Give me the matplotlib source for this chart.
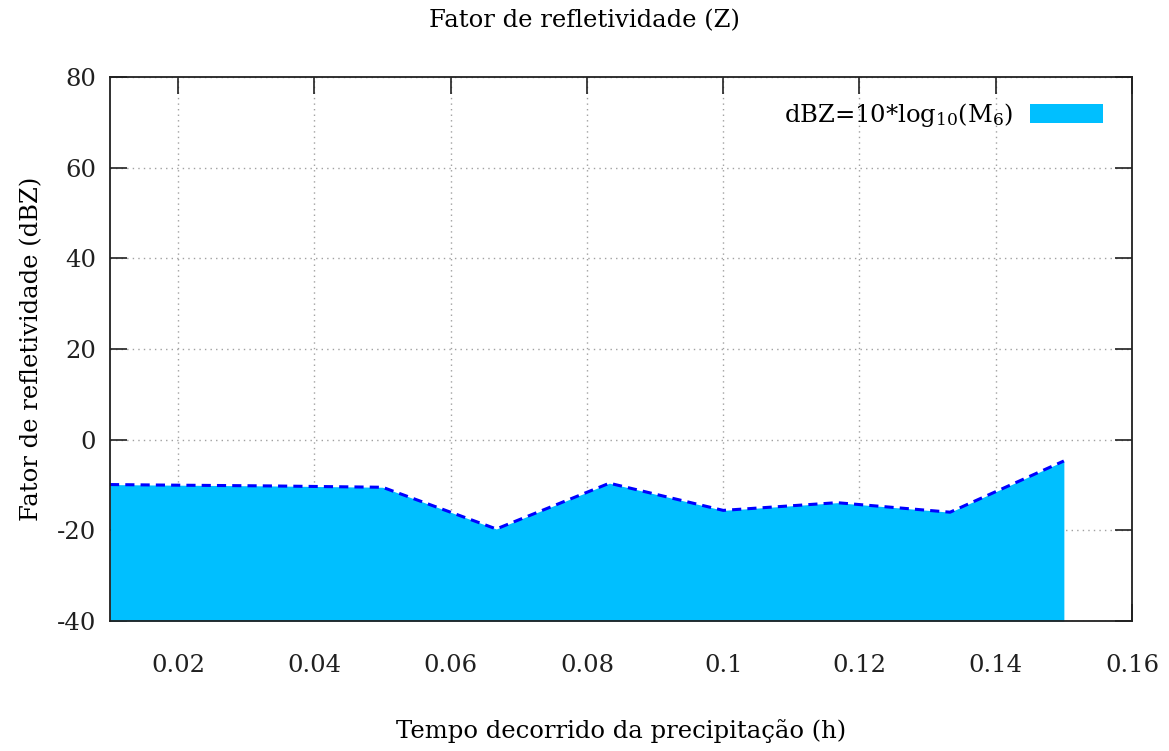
import matplotlib
matplotlib.use("Agg")
import matplotlib.pyplot as plt
from matplotlib.patches import Patch

# tempo (h) e fator de refletividade (dBZ)
tempo = [0.01, 0.0167, 0.0333, 0.05, 0.0667, 0.0833, 0.1, 0.1167, 0.1333, 0.15]
dbz = [-9.9, -10.0, -10.2, -10.5, -19.7, -9.6, -15.6, -13.9, -16.0, -4.7]

xticks = [0.02, 0.04, 0.06, 0.08, 0.1, 0.12, 0.14, 0.16]
xticklabels = ["0.02", "0.04", "0.06", "0.08", "0.1", "0.12", "0.14", "0.16"]
yticks = [-40, -20, 0, 20, 40, 60, 80]

fill_color = "#00BFFF"
line_color = "#0000FF"

plt.rcParams['font.family'] = ['DejaVu Serif']
plt.rcParams['mathtext.fontset'] = 'dejavuserif'
plt.rcParams['axes.unicode_minus'] = False

fs = 17.5

fig = plt.figure(figsize=(11.69, 7.51), dpi=100)
ax = fig.add_axes([110/1169, 1 - 621/751, (1132-110)/1169, (621-77)/751])

ax.fill_between(tempo, -40, dbz, color=fill_color, linewidth=0, zorder=2)
ax.plot(tempo, dbz, color=line_color, linestyle=(0, (3, 2)), linewidth=2.2, zorder=3)

ax.set_xlim(0.01, 0.16)
ax.set_ylim(-40, 80)
ax.set_xticks(xticks)
ax.set_xticklabels(xticklabels)
ax.set_yticks(yticks)

ax.grid(True, color="#a0a0a0", linestyle=(0, (1, 3)), linewidth=1.0, zorder=1)
ax.set_axisbelow(True)

ax.tick_params(direction='in', length=12, width=1.2, top=True, right=True,
               labelsize=fs, pad=10, colors='#202020')
ax.tick_params(axis='x', pad=24)
for s in ax.spines.values():
    s.set_linewidth(1.3)
    s.set_color('#202020')
    s.set_zorder(4)

ax.set_xlabel("Tempo decorrido da precipitação (h)", fontsize=fs, labelpad=30)
ax.set_ylabel("Fator de refletividade (dBZ)", fontsize=fs, labelpad=10)
fig.suptitle("Fator de refletividade (Z)", fontsize=fs, y=0.988)

handle = Patch(facecolor=fill_color, edgecolor='none')
ax.legend([handle], [r"dBZ=10*log$_{10}$(M$_6$)"], loc='upper right',
          bbox_to_anchor=(0.993, 0.996), frameon=False, markerfirst=False,
          fontsize=fs, handlelength=3.0, handleheight=0.85, handletextpad=0.7)

fig.savefig("out.png", dpi=100)
